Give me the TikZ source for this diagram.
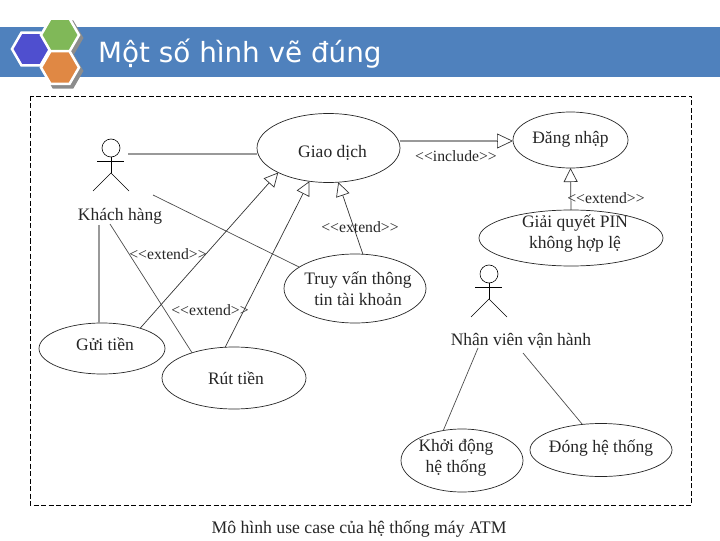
\documentclass[tikz,border=0pt]{standalone}
\usepackage{fontspec}
\setmainfont{Liberation Serif}
\newfontfamily\titlefont{DejaVu Sans}
\usetikzlibrary{positioning, shapes.geometric, arrows.meta, calc}
\definecolor{bandblue}{HTML}{4F81BD}
\definecolor{hexblue}{HTML}{4F4FCF}
\definecolor{hexgreen}{HTML}{80B858}
\definecolor{hexorange}{HTML}{E08844}

\begin{document}
\begin{tikzpicture}[
	x=1pt, y=-1pt,
	% --- STYLES ---
	usecase/.style={
		ellipse, draw=black!85, line width=0.7pt, inner sep=0pt, outer sep=0pt
	},
	casetext/.style={
		font=\fontsize{17.5}{21}\selectfont, align=center, text=black!85
	},
	stereo/.style={
		font=\fontsize{15.7}{18}\selectfont, text=black!85
	},
	assoc/.style={
		draw=black!70, line width=0.7pt
	},
	assocgray/.style={
		draw=black!40, line width=1.2pt
	},
	genline/.style={
		draw=black!80, line width=0.7pt,
		-{Triangle[open, length=14pt, width=14pt, line width=0.7pt]}
	},
	actorline/.style={
		draw=black, line width=0.6pt
	},
	hexa/.style={
		regular polygon, regular polygon sides=6, minimum size=38pt,
		inner sep=0pt, draw=#1
	}
	]
	
	% --- 1. Header band ---
	\fill [bandblue] (0,27) rectangle (720,77);
	\node [anchor=base west, inner sep=0pt, text=white, font=\titlefont\fontsize{27.8}{32}\selectfont] (title) at (98,63) {Một số hình vẽ đúng};
	
	\node [hexa=black!45, fill=black!45, line width=2.5pt] (shgreen) at (63,38) {};
	\node [hexa=black!45, fill=black!45, line width=2.5pt] (shorange) at (63,71) {};
	\node [hexa=white, fill=hexblue, line width=2.5pt] (hexb) at (31,49) {};
	\node [hexa=white, fill=hexgreen, line width=2.5pt] (hexg) at (60,35) {};
	\node [hexa=white, fill=hexorange, line width=2.5pt] (hexo) at (60,67.5) {};
	
	% --- 2. Frame and caption ---
	\draw [dashed, line width=0.8pt, dash pattern=on 5pt off 2.5pt] (30,96) rectangle (691.5,505);
	\node [casetext, font=\fontsize{17.7}{21}\selectfont] (caption) at (359,528.5) {Mô hình use case của hệ thống máy ATM};
	
	% --- 3. Use cases ---
	\node [usecase, minimum width=143pt, minimum height=69pt, label={[casetext, xshift=4pt, yshift=-4.5pt]center:Giao dịch}] (giaodich) at (328.5,148) {};
	\node [usecase, minimum width=115pt, minimum height=56pt, label={[casetext, yshift=0.5pt]center:Đăng nhập}] (dangnhap) at (570.5,140) {};
	\node [usecase, minimum width=184pt, minimum height=56pt, label={[casetext, xshift=4pt, yshift=4.5pt]center:Giải quyết PIN\\không hợp lệ}] (giaiquyet) at (571,238) {};
	\node [usecase, minimum width=142pt, minimum height=69pt, label={[casetext, xshift=3pt]center:Truy vấn thông\\tin tài  khoản}] (truyvan) at (355,288.5) {};
	\node [usecase, minimum width=126pt, minimum height=51pt, label={[casetext, xshift=3pt, yshift=4pt]center:Gửi tiền}] (guitien) at (102,348.5) {};
	\node [usecase, minimum width=144pt, minimum height=62pt, label={[casetext, xshift=2pt]center:Rút tiền}] (ruttien) at (234,378) {};
	\node [usecase, minimum width=122pt, minimum height=63pt, label={[casetext, xshift=-6pt, yshift=2.5pt]center:Khởi động\\hệ thống}] (khoidong) at (462,460.5) {};
	\node [usecase, minimum width=142pt, minimum height=53pt, label={[casetext, yshift=1.5pt]center:Đóng hệ thống}] (donghe) at (601,450) {};
	
	% --- 4. Actors ---
	\foreach \px/\py in {111/148, 489/274} {
		\draw [actorline] (\px,\py) circle (9pt);
		\draw [actorline] (\px,\py+9) -- (\px,\py+25);
		\draw [actorline] (\px-14,\py+13) -- (\px+13,\py+13);
		\draw [actorline] (\px-18,\py+43) -- (\px,\py+25) -- (\px+18,\py+43);
	}
	\node [casetext] (khachhang) at (120,216) {Khách hàng};
	\node [casetext] (nhanvien) at (521,340.5) {Nhân viên vận hành};
	
	% Free ends next to the actors
	\coordinate (kh_right) at (128,154);
	\coordinate (kh_leg) at (153,195);
	\coordinate (kh_down) at (99,225);
	\coordinate (kh_cross) at (110,224);
	\coordinate (nv_left) at (478,348);
	\coordinate (nv_right) at (523,353);
	
	% --- 5. Associations ---
	\draw [assocgray] (kh_right) -- (kh_right -| giaodich.west);
	\draw [assoc] (kh_leg) -- (truyvan.159);
	\draw [assocgray] (kh_down) -- (kh_down |- guitien.north);
	\draw [assoc] (kh_cross) -- (ruttien.149);
	\draw [assoc] (nv_left) -- (khoidong.122);
	\draw [assoc] (nv_right) -- (donghe.126);
	
	% --- 6. Generalisations ---
	\draw [genline] (guitien.28) -- (giaodich.206);
	\draw [genline] (ruttien.106) -- (giaodich.240);
	\draw [genline] (truyvan.77) -- (giaodich.-74);
	\draw [genline] (giaiquyet.north) -- (dangnhap.south);
	% thick shaft, the head goes on top
	\coordinate (incl_end) at ($(dangnhap.west)+(0,1)$);
	\coordinate (incl_head) at ($(incl_end)+(-16,0)$);
	\draw [draw=black!40, line width=2.5pt] (giaodich.east |- incl_end) -- (incl_head);
	\draw [genline, -{Triangle[open, length=16pt, width=15pt, line width=0.7pt]}] (incl_head) -- (incl_end);
	
	% --- 7. Stereotypes ---
	\node [stereo] (st_include) at (456,156) {<{}<include>{}>};
	\node [stereo] (st_extend1) at (606,198) {<{}<extend>{}>};
	\node [stereo] (st_extend2) at (360,227) {<{}<extend>{}>};
	\node [stereo] (st_extend3) at (168,254) {<{}<extend>{}>};
	\node [stereo] (st_extend4) at (210,310) {<{}<extend>{}>};
	
	\useasboundingbox (0,0) rectangle (720,540);
\end{tikzpicture}
\end{document}
